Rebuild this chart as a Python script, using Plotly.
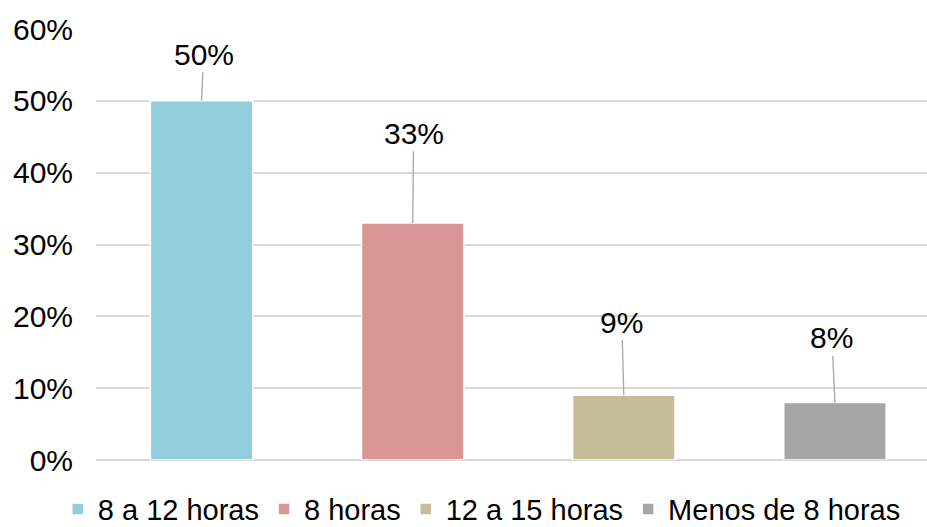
import plotly.graph_objects as go

# ---- data ----
categories = ["8 a 12 horas", "8 horas", "12 a 15 horas", "Menos de 8 horas"]
values = [50, 33, 9, 8]
tick_values = [0, 10, 20, 30, 40, 50, 60]
tick_labels = ["0%", "10%", "20%", "30%", "40%", "50%", "60%"]

# ---- style ----
colors = ["#92CDDC", "#D99694", "#C4BD97", "#A6A6A6"]
label_y = [56.5, 45.5, 19.2, 17.0]      # label placement (data units)
label_dx = [2, 1, -2, -3]               # horizontal label nudge (px)
FONT = "Liberation Sans, Arial, sans-serif"
FS = 30

fig = go.Figure()
for cat, val, col in zip(categories, values, colors):
    fig.add_trace(go.Bar(
        x=[cat], y=[val], name=cat, width=0.485,
        marker=dict(color=col, line=dict(color="white", width=1.5)),
        hoverinfo="skip",
    ))

for cat, val, ly, dx in zip(categories, values, label_y, label_dx):
    fig.add_annotation(
        x=cat, y=val, text=f"{val}%",
        showarrow=True, arrowhead=0, arrowwidth=1.3, arrowcolor="#A6A6A6",
        axref="pixel", ax=dx, ayref="y", ay=ly,
        font=dict(family=FONT, size=FS, color="#000000"),
        standoff=0, borderpad=1,
    )

fig.update_layout(
    width=927, height=527,
    margin=dict(l=96, r=0, t=29, b=67, autoexpand=False),
    paper_bgcolor="white", plot_bgcolor="white",
    barmode="overlay",
    font=dict(family=FONT, size=FS, color="#000000"),
    showlegend=True,
    legend=dict(orientation="h", xanchor="left", x=-0.046,
                yanchor="middle", y=-0.114,
                font=dict(family=FONT, size=FS - 1, color="#000000"),
                itemwidth=30, tracegroupgap=0),
    xaxis=dict(type="category", categoryorder="array", categoryarray=categories,
               range=[-0.5, 3.436], showticklabels=False, showgrid=False,
               zeroline=False, showline=False, ticks=""),
    yaxis=dict(range=[0, 60], tickvals=tick_values, ticktext=tick_labels,
               showgrid=True, gridcolor="#D9D9D9", gridwidth=1.5,
               zeroline=True, zerolinecolor="#D9D9D9", zerolinewidth=1.5,
               showline=False, ticks="", ticklabelstandoff=22,
               tickfont=dict(family=FONT, size=FS, color="#000000")),
)

fig.write_html("out.html", config={"displayModeBar": False},
               post_script="document.body.style.margin='0px';")
